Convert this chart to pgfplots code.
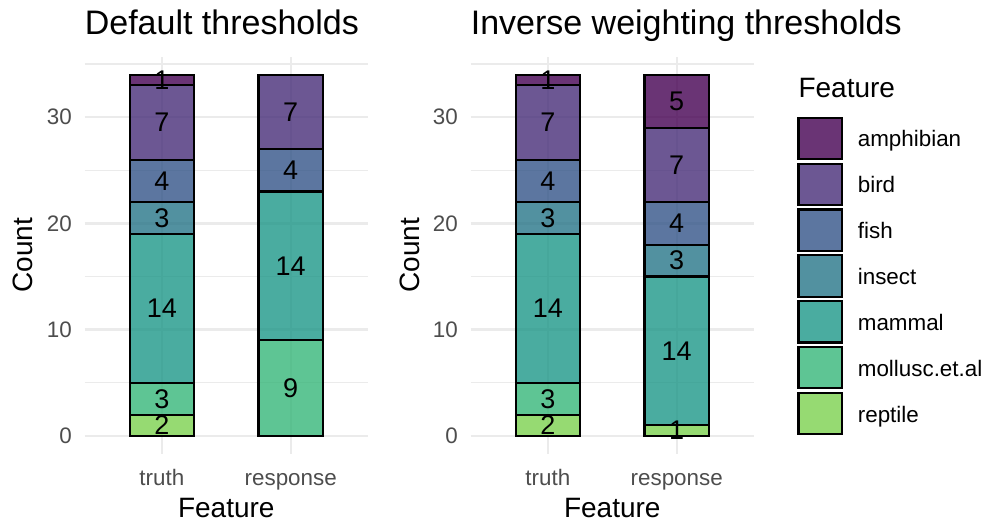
\documentclass[border=0pt]{standalone}
\usepackage{pgfplots}
\pgfplotsset{compat=1.18}
\usepackage{pgfplotstable}
\usepackage{fontspec}
\setmainfont{Liberation Sans}

\definecolor{cAmph}{HTML}{450152}
\definecolor{cBird}{HTML}{472D78}
\definecolor{cFish}{HTML}{335488}
\definecolor{cInse}{HTML}{277588}
\definecolor{cMamm}{HTML}{1D9788}
\definecolor{cMoll}{HTML}{36B679}
\definecolor{cRept}{HTML}{7CD14F}
\definecolor{gridc}{HTML}{EBEBEB}
\definecolor{tickc}{HTML}{4D4D4D}

\pgfplotstableread{
x reptile mollusc mammal insect fish bird amphibian
1 2 3 14 3 4 7 1
2 0 9 14 0 4 7 0
}\tabA
\pgfplotstableread{
x reptile mollusc mammal insect fish bird amphibian
1 2 3 14 3 4 7 1
2 1 0 14 3 4 7 5
}\tabB
\pgfplotstableread{
x y label
1 1 2
1 3.5 3
1 12 14
1 20.5 3
1 24 4
1 29.5 7
1 33.5 1
2 4.5 9
2 16 14
2 25 4
2 30.5 7
}\labA
\pgfplotstableread{
x y label
1 1 2
1 3.5 3
1 12 14
1 20.5 3
1 24 4
1 29.5 7
1 33.5 1
2 0.5 1
2 8 14
2 16.5 3
2 20 4
2 25.5 7
2 31.5 5
}\labB

\pgfplotsset{
  panel/.style={
    scale only axis, width=283.4pt, height=397.5pt,
    xmin=0.4, xmax=2.6, ymin=-1.7, ymax=35.7,
    ybar stacked, bar width=0.5,
    axis line style={draw=none}, major tick length=0pt, minor tick length=0pt,
    xtick={1,2}, xticklabels={truth,response},
    ytick={0,10,20,30}, minor ytick={5,15,25,35},
    xmajorgrids, ymajorgrids, yminorgrids,
    major grid style={draw=gridc, line width=2.4pt},
    minor grid style={draw=gridc, line width=1.2pt},
    /pgf/number format/assume math mode=true,
    ticklabel style={font=\fontsize{22.4}{26}\selectfont, text=tickc, inner sep=0pt},
    yticklabel style={anchor=east, xshift=-12.6pt},
    xticklabel style={anchor=base, yshift=-31pt},
    xlabel={Feature}, ylabel={Count},
    xlabel style={at={(axis description cs:0.5,0)}, anchor=base, yshift=-63pt, font=\fontsize{28}{32}\selectfont, inner sep=0pt},
    ylabel style={at={(axis description cs:0,0.5)}, anchor=base, yshift=51.6pt, font=\fontsize{28}{32}\selectfont, inner sep=0pt},
    title style={at={(axis description cs:0,1)}, anchor=base west, yshift=16.5pt, font=\fontsize{34}{38}\selectfont, inner sep=0pt},
  },
  barsty/.style={draw=black, line width=2.1pt, fill opacity=0.8, draw opacity=1},
  labpanel/.style={scale only axis, width=283.4pt, height=397.5pt,
    xmin=0.4, xmax=2.6, ymin=-1.7, ymax=35.7, hide axis},
  labplot/.style={draw=none, mark=none, nodes near coords, point meta=explicit symbolic,
    nodes near coords align={center},
    every node near coord/.append style={anchor=center, inner sep=0pt, text=black, font=\fontsize{27}{30}\selectfont}},
}

\begin{document}
\begin{tikzpicture}
\useasboundingbox (0,0) rectangle (992pt,-523pt);

% ---------- panel 1 ----------
\begin{axis}[panel, at={(84.6pt,-454pt)}, anchor=south west, title={Default thresholds}]
\addplot[barsty, fill=cRept] table[x=x, y=reptile] \tabA;
\addplot[barsty, fill=cMoll] table[x=x, y=mollusc] \tabA;
\addplot[barsty, fill=cMamm] table[x=x, y=mammal] \tabA;
\addplot[barsty, fill=cInse] table[x=x, y=insect] \tabA;
\addplot[barsty, fill=cFish] table[x=x, y=fish] \tabA;
\addplot[barsty, fill=cBird] table[x=x, y=bird] \tabA;
\addplot[barsty, fill=cAmph] table[x=x, y=amphibian] \tabA;
\end{axis}
\begin{axis}[labpanel, at={(84.6pt,-454pt)}, anchor=south west]
\addplot[labplot] table[x=x, y=y, meta=label] \labA;
\end{axis}

% ---------- panel 2 ----------
\begin{axis}[panel, at={(470.6pt,-454pt)}, anchor=south west, title={Inverse weighting thresholds},
  every axis plot post/.append style={legend image code/.code={\draw[##1,draw=black,line width=2.1pt] (0pt,-20.6pt) rectangle (43.3pt,20.6pt);}},
  reverse legend, legend cell align=left,
  legend style={at={(1.1533,0.8486)}, anchor=north west, draw=none, fill=none,
    inner sep=0pt, outer sep=0pt, row sep=2.6pt,
    nodes={inner sep=0pt, text height=17pt, text depth=0pt, font=\fontsize{22.4}{26}\selectfont},
    /tikz/every odd column/.append style={column sep=15pt}}]
\addplot[barsty, fill=cRept] table[x=x, y=reptile] \tabB; \addlegendentry{reptile}
\addplot[barsty, fill=cMoll] table[x=x, y=mollusc] \tabB; \addlegendentry{mollusc.et.al}
\addplot[barsty, fill=cMamm] table[x=x, y=mammal] \tabB; \addlegendentry{mammal}
\addplot[barsty, fill=cInse] table[x=x, y=insect] \tabB; \addlegendentry{insect}
\addplot[barsty, fill=cFish] table[x=x, y=fish] \tabB; \addlegendentry{fish}
\addplot[barsty, fill=cBird] table[x=x, y=bird] \tabB; \addlegendentry{bird}
\addplot[barsty, fill=cAmph] table[x=x, y=amphibian] \tabB; \addlegendentry{amphibian}
\end{axis}
\begin{axis}[labpanel, at={(470.6pt,-454pt)}, anchor=south west]
\addplot[labplot] table[x=x, y=y, meta=label] \labB;
\end{axis}

\node[anchor=base west, inner sep=0pt, font=\fontsize{28}{32}\selectfont] at (798.3pt,-97.3pt) {Feature};
\end{tikzpicture}
\end{document}
